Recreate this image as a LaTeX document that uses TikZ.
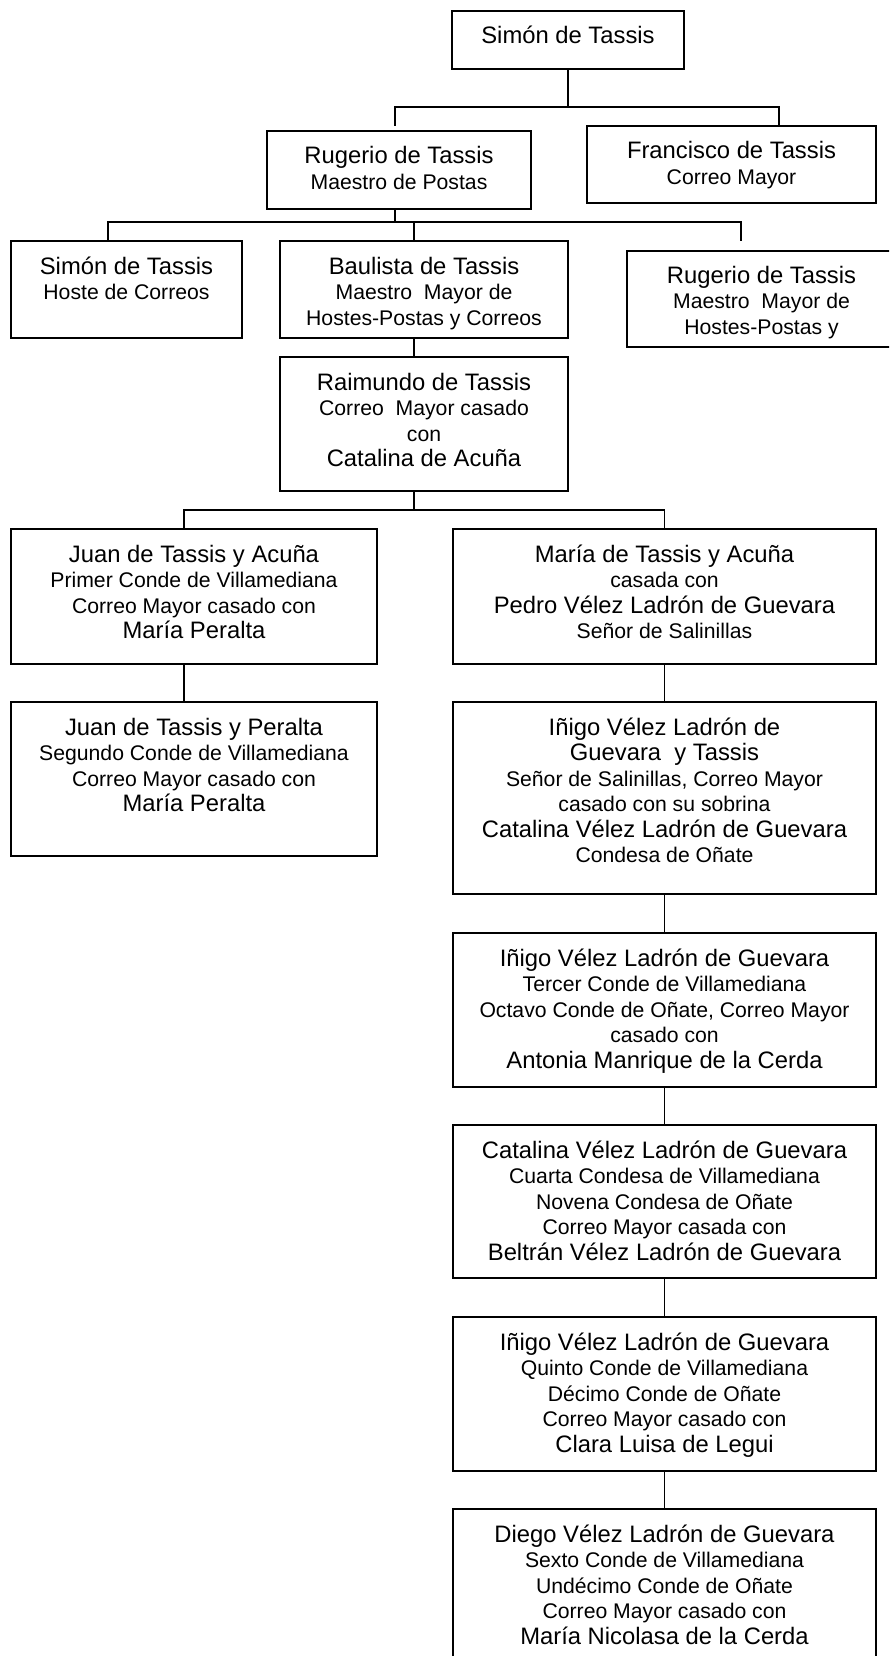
\documentclass[tikz,border=0pt]{standalone}
\usepackage{fontspec}
\setmainfont{Liberation Sans}
\newcommand\nmf{\fontsize{23.8pt}{25.5pt}\selectfont}
\newcommand\sbf{\fontsize{21.2pt}{25.5pt}\selectfont\lineskiplimit=-50pt\relax}
\newcommand\fst{\rule{0pt}{20pt}}
\tikzset{
  box/.style={draw, line width=1.7pt, rectangle, inner sep=0pt, outer sep=0pt},
  conn/.style={line width=1.3pt},
  txt/.style={anchor=north, align=center, inner sep=0pt, outer sep=0pt, font=\sbf},
}
\begin{document}
\begin{tikzpicture}[x=1pt, y=-1pt]
\useasboundingbox (0,0) rectangle (889,1656);
\clip (0,0) rectangle (889,1656);
\fill[white] (0,0) rectangle (889,1656);

% boxes
\node[box, minimum width=232pt, minimum height=58pt]  (s0)   at (568,40) {};
\node[box, minimum width=264pt, minimum height=78pt]  (rug)  at (399,170) {};
\node[box, minimum width=289pt, minimum height=77pt]  (fra)  at (731.5,164.5) {};
\node[box, minimum width=231pt, minimum height=97pt]  (s1)   at (126.5,289.5) {};
\node[box, minimum width=288pt, minimum height=97pt]  (bau)  at (424,289.5) {};
\node[box, minimum width=269pt, minimum height=96pt]  (rug2) at (761.5,299) {};
\node[box, minimum width=288pt, minimum height=134pt] (rai)  at (424,424) {};
\node[box, minimum width=366pt, minimum height=135pt] (juan) at (194,596.5) {};
\node[box, minimum width=423pt, minimum height=135pt] (mar)  at (664.5,596.5) {};
\node[box, minimum width=366pt, minimum height=154pt] (juan2) at (194,779) {};
\node[box, minimum width=423pt, minimum height=192pt] (ini1) at (664.5,798) {};
\node[box, minimum width=423pt, minimum height=154pt] (ini2) at (664.5,1010) {};
\node[box, minimum width=423pt, minimum height=153pt] (cat)  at (664.5,1201.5) {};
\node[box, minimum width=423pt, minimum height=154pt] (ini3) at (664.5,1394) {};
\node[box, minimum width=423pt, minimum height=154pt] (die)  at (664.5,1586) {};

% texts
\node[txt] (ts0) at ([yshift=-13pt]s0.north) {\fst{\nmf Simón de Tassis}};
\node[txt] (trug) at ([yshift=-13pt]rug.north) {\fst{\nmf Rugerio de Tassis}\\Maestro de Postas};
\node[txt] (tfra) at ([yshift=-13pt]fra.north) {\fst{\nmf Francisco de Tassis}\\Correo Mayor};
\node[txt] (ts1) at ([yshift=-13pt]s1.north) {\fst{\nmf Simón de Tassis}\\Hoste de Correos};
\node[txt] (tbau) at ([yshift=-13pt]bau.north) {\fst{\nmf Baulista de Tassis}\\Maestro\ \ Mayor de\\Hostes-Postas y Correos};
\node[txt] (trug2) at ([yshift=-12pt]rug2.north) {\fst{\nmf Rugerio de Tassis}\\Maestro\ \ Mayor de\\Hostes-Postas y};
\node[txt] (trai) at ([yshift=-13pt]rai.north) {\fst{\nmf Raimundo de Tassis}\\Correo\ \ Mayor casado\\con\\{\nmf Catalina de Acuña}};
\node[txt] (tjuan) at ([yshift=-13pt]juan.north) {\fst{\nmf Juan de Tassis y Acuña}\\Primer Conde de Villamediana\\Correo Mayor casado con\\{\nmf María Peralta}};
\node[txt] (tmar) at ([yshift=-13pt]mar.north) {\fst{\nmf María de Tassis y Acuña}\\casada con\\{\nmf Pedro Vélez Ladrón de Guevara}\\Señor de Salinillas};
\node[txt] (tjuan2) at ([yshift=-13pt]juan2.north) {\fst{\nmf Juan de Tassis y Peralta}\\Segundo Conde de Villamediana\\Correo Mayor casado con\\{\nmf María Peralta}};
\node[txt] (tini1) at ([yshift=-13pt]ini1.north) {\fst{\nmf Iñigo Vélez Ladrón de}\\{\nmf Guevara\ \ y Tassis}\\Señor de Salinillas, Correo Mayor\\casado con su sobrina\\{\nmf Catalina Vélez Ladrón de Guevara}\\Condesa de Oñate};
\node[txt] (tini2) at ([yshift=-13pt]ini2.north) {\fst{\nmf Iñigo Vélez Ladrón de Guevara}\\Tercer Conde de Villamediana\\Octavo Conde de Oñate, Correo Mayor\\casado con\\{\nmf Antonia Manrique de la Cerda}};
\node[txt] (tcat) at ([yshift=-13pt]cat.north) {\fst{\nmf Catalina Vélez Ladrón de Guevara}\\Cuarta Condesa de Villamediana\\Novena Condesa de Oñate\\Correo Mayor casada con\\{\nmf Beltrán Vélez Ladrón de Guevara}};
\node[txt] (tini3) at ([yshift=-13pt]ini3.north) {\fst{\nmf Iñigo Vélez Ladrón de Guevara}\\Quinto Conde de Villamediana\\Décimo Conde de Oñate\\Correo Mayor casado con\\{\nmf Clara Luisa de Legui}};
\node[txt] (tdie) at ([yshift=-13pt]die.north) {\fst{\nmf Diego Vélez Ladrón de Guevara}\\Sexto Conde de Villamediana\\Undécimo Conde de Oñate\\Correo Mayor casado con\\{\nmf María Nicolasa de la Cerda}};

% junction coordinates
\coordinate (h1L) at (395,107);
\coordinate (h1R) at (779,107);
\coordinate (e1) at (395,126);
\coordinate (h2L) at (108,222);
\coordinate (h2R) at (741,222);
\coordinate (e2) at (741,241);
\coordinate (vB) at (414,222);
\coordinate (h3L) at (184,510);
\coordinate (h3R) at (664.5,510);

% connectors
\draw[conn] (s0.south) -- (s0.south |- h1L);
\draw[conn] (e1) -- (h1L) -- (h1R) -- (h1R |- fra.north);
\draw[conn] (rug.south -| h1L) -- (h1L |- h2L);
\draw[conn] (h2L |- s1.north) -- (h2L) -- (h2R) -- (e2);
\draw[conn] (vB) -- (vB |- bau.north);
\draw[conn] (vB |- bau.south) -- (vB |- rai.north);
\draw[conn] (vB |- rai.south) -- (vB |- h3L);
\draw[conn] (h3L |- juan.north) -- (h3L) -- (h3R) -- (mar.north);
\draw[conn] (juan.south -| h3L) -- (juan2.north -| h3L);
\draw[conn] (mar.south) -- (ini1.north);
\draw[conn] (ini1.south) -- (ini2.north);
\draw[conn] (ini2.south) -- (cat.north);
\draw[conn] (cat.south) -- (ini3.north);
\draw[conn] (ini3.south) -- (die.north);
\end{tikzpicture}
\end{document}
